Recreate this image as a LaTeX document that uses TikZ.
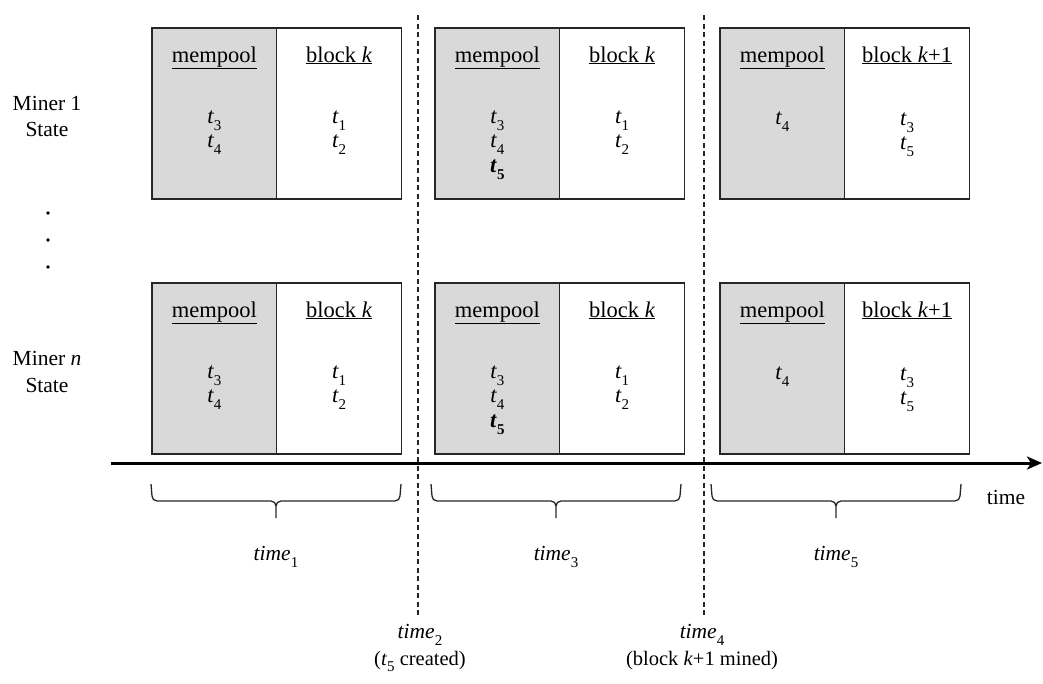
\documentclass[tikz,border=0pt]{standalone}
\usepackage{fontspec}
\setmainfont{Liberation Serif}
\usetikzlibrary{calc,arrows.meta}
\newcommand{\tsb}[2]{\textit{#1}\raisebox{-0.34em}{\fontsize{15}{15}\selectfont #2}}
\newcommand{\tbsb}[1]{\textbf{\textit{t}}\raisebox{-0.34em}{\fontsize{15}{15}\selectfont\bfseries #1}}
\definecolor{poolgray}{HTML}{D9D9D9}
\definecolor{lin}{HTML}{262626}
\begin{document}
\begin{tikzpicture}[x=1pt,y=-1pt,
  font=\fontsize{21.5}{23}\selectfont,
  half/.style={draw=lin, line width=1.3pt, minimum width=124.75pt, minimum height=171pt, inner sep=0pt, outer sep=0pt, anchor=north west},
  mp/.style={half, fill=poolgray},
  bk/.style={half, fill=white},
  txt/.style={anchor=base, inner sep=0pt},
  btxt/.style={txt, font=\fontsize{22.5}{24}\selectfont},
  etxt/.style={txt, font=\fontsize{20.5}{22}\selectfont},
  brc/.style={draw=lin, line width=1.3pt},
  dsh/.style={draw=lin, line width=1.2pt, dash pattern=on 5pt off 3.5pt},
  axis/.style={draw=black, line width=3pt, -{Stealth[length=15pt,width=13pt,inset=4pt]}}
]
\useasboundingbox (0,0) rectangle (1043,683);

% boxes and headers
\foreach \r/\y in {1/28, 2/283} {
  \foreach \c/\x/\hd in {1/152/{block \textit{k}}, 2/435/{block \textit{k}}, 3/720/{block \textit{k}+1}} {
    \node[mp] (m\r\c) at (\x,\y) {};
    \node[bk] (b\r\c) at (m\r\c.north east) {};
    \node[btxt] (hm\r\c) at ($(m\r\c.north)+(0,34)$) {\underline{mempool}};
    \node[btxt] (hb\r\c) at ($(b\r\c.north)+(0,34)$) {\underline{\hd}};
  }
  % column 1
  \node[btxt] (e\r a) at ($(m\r1.north)+(0,95)$) {\tsb{t}{3}};
  \node[btxt] (e\r b) at ($(m\r1.north)+(0,119)$) {\tsb{t}{4}};
  \node[btxt] (e\r c) at ($(b\r1.north)+(0,95)$) {\tsb{t}{1}};
  \node[btxt] (e\r d) at ($(b\r1.north)+(0,119)$) {\tsb{t}{2}};
  % column 2
  \node[btxt] (f\r a) at ($(m\r2.north)+(0,95)$) {\tsb{t}{3}};
  \node[btxt] (f\r b) at ($(m\r2.north)+(0,119)$) {\tsb{t}{4}};
  \node[btxt] (f\r e) at ($(m\r2.north)+(0,144)$) {\tbsb{5}};
  \node[btxt] (f\r c) at ($(b\r2.north)+(0,95)$) {\tsb{t}{1}};
  \node[btxt] (f\r d) at ($(b\r2.north)+(0,119)$) {\tsb{t}{2}};
  % column 3
  \node[btxt] (g\r a) at ($(m\r3.north)+(0,96)$) {\tsb{t}{4}};
  \node[btxt] (g\r c) at ($(b\r3.north)+(0,97)$) {\tsb{t}{3}};
  \node[btxt] (g\r d) at ($(b\r3.north)+(0,121)$) {\tsb{t}{5}};
}

% miner labels
\node[txt] (mi1) at (47,110) {Miner 1};
\node[txt] (st1) at (47,136) {State};
\node[txt] (min) at (47,365) {Miner \textit{n}};
\node[txt] (stn) at (47,392) {State};
\foreach \yy in {213,240,267} {
  \fill[black] (48,\yy) circle (1.8pt);
}

% dashed separators
\coordinate (d1t) at (418,15);
\coordinate (d1b) at (418,617);
\coordinate (d2t) at (704,15);
\coordinate (d2b) at (704,617);
\draw[dsh] (d1t) -- (d1b);
\draw[dsh] (d2t) -- (d2b);

% time axis
\coordinate (as) at (111,463);
\coordinate (ae) at (1042,463);
\draw[axis] (as) -- (ae);
\node[txt] (tl) at (1006,504) {time};

% braces
\foreach \xa/\xb [count=\i] in {152/400, 432/680, 712/960} {
  \pgfmathsetmacro{\xm}{(\xa+\xb)/2}
  \draw[brc, line join=round]
    (\xa-1,484) -- (\xa,496) to[out=-90,in=180] (\xa+5,501)
    -- (\xm-5,501) to[out=0,in=90] (\xm,506) -- (\xm,518);
  \draw[brc, line join=round]
    (\xb+1,484) -- (\xb,496) to[out=-90,in=0] (\xb-5,501)
    -- (\xm+5,501) to[out=180,in=90] (\xm,506);
}
\node[txt] (t1) at (276,560) {\tsb{time}{1}};
\node[txt] (t3) at (556,560) {\tsb{time}{3}};
\node[txt] (t5) at (836,560) {\tsb{time}{5}};

% event labels
\node[txt] (t2) at (420,638) {\tsb{time}{2}};
\node[etxt] (t2b) at (420,665) {(\tsb{t}{5} created)};
\node[txt] (t4) at (702,638) {\tsb{time}{4}};
\node[etxt] (t4b) at (702,665) {(block \textit{k}+1 mined)};
\end{tikzpicture}
\end{document}
